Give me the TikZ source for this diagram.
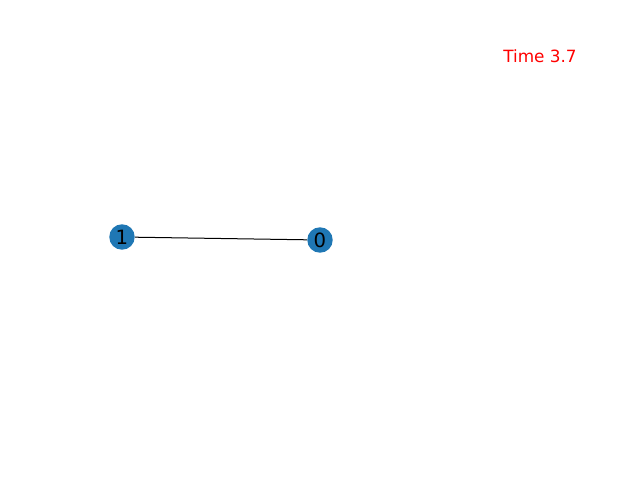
\documentclass[tikz,border=0pt]{standalone}
\usepackage{fontspec}
\setmainfont{DejaVu Sans}
\definecolor{nxblue}{HTML}{1F77B4}
\begin{document}
\begin{tikzpicture}[x=0.02cm,y=-0.02cm,
  vertex/.style={circle,fill=nxblue,minimum size=0.51cm,inner sep=0pt,font=\fontsize{11.2}{12}\selectfont},
  edge/.style={draw=black,line width=0.57pt}]
\useasboundingbox (0,0) rectangle (640,480);
\node[vertex] (n1) at (122,237) {1};
\node[vertex] (n0) at (320,240) {0};
\draw[edge] (n1) -- (n0);
\node[text=red,font=\fontsize{9.6}{11}\selectfont] (t) at (540,56) {Time 3.7};
\end{tikzpicture}
\end{document}
